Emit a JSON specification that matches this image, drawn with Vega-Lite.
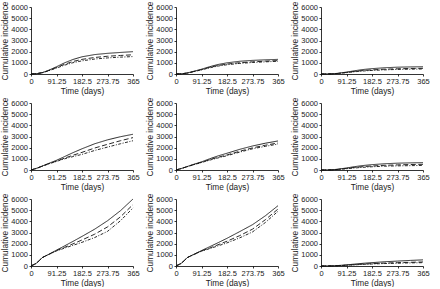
{
"$schema": "https://vega.github.io/schema/vega-lite/v6.json",
"padding": {"left": 0, "top": 1, "right": 2, "bottom": 0},
"background": "white",
"datasets": {
"curves": [
{"p":1,"s":"a","t":0,"v":0},{"p":1,"s":"a","t":20,"v":30},{"p":1,"s":"a","t":40,"v":120},{"p":1,"s":"a","t":60,"v":300},{"p":1,"s":"a","t":91.25,"v":650},{"p":1,"s":"a","t":120,"v":1000},{"p":1,"s":"a","t":150,"v":1300},{"p":1,"s":"a","t":182.5,"v":1540},{"p":1,"s":"a","t":228,"v":1740},{"p":1,"s":"a","t":273.75,"v":1850},{"p":1,"s":"a","t":320,"v":1930},{"p":1,"s":"a","t":365,"v":2000},
{"p":1,"s":"b","t":0,"v":0},{"p":1,"s":"b","t":20,"v":30},{"p":1,"s":"b","t":40,"v":115},{"p":1,"s":"b","t":60,"v":280},{"p":1,"s":"b","t":91.25,"v":580},{"p":1,"s":"b","t":120,"v":870},{"p":1,"s":"b","t":150,"v":1120},{"p":1,"s":"b","t":182.5,"v":1310},{"p":1,"s":"b","t":228,"v":1480},{"p":1,"s":"b","t":273.75,"v":1590},{"p":1,"s":"b","t":320,"v":1660},{"p":1,"s":"b","t":365,"v":1720},
{"p":1,"s":"c","t":0,"v":0},{"p":1,"s":"c","t":20,"v":30},{"p":1,"s":"c","t":40,"v":110},{"p":1,"s":"c","t":60,"v":260},{"p":1,"s":"c","t":91.25,"v":530},{"p":1,"s":"c","t":120,"v":790},{"p":1,"s":"c","t":150,"v":1010},{"p":1,"s":"c","t":182.5,"v":1180},{"p":1,"s":"c","t":228,"v":1340},{"p":1,"s":"c","t":273.75,"v":1440},{"p":1,"s":"c","t":320,"v":1510},{"p":1,"s":"c","t":365,"v":1560},
{"p":2,"s":"a","t":0,"v":0},{"p":2,"s":"a","t":20,"v":20},{"p":2,"s":"a","t":40,"v":90},{"p":2,"s":"a","t":60,"v":220},{"p":2,"s":"a","t":91.25,"v":430},{"p":2,"s":"a","t":120,"v":650},{"p":2,"s":"a","t":150,"v":850},{"p":2,"s":"a","t":182.5,"v":1000},{"p":2,"s":"a","t":228,"v":1140},{"p":2,"s":"a","t":273.75,"v":1220},{"p":2,"s":"a","t":320,"v":1270},{"p":2,"s":"a","t":365,"v":1310},
{"p":2,"s":"b","t":0,"v":0},{"p":2,"s":"b","t":20,"v":20},{"p":2,"s":"b","t":40,"v":85},{"p":2,"s":"b","t":60,"v":200},{"p":2,"s":"b","t":91.25,"v":390},{"p":2,"s":"b","t":120,"v":590},{"p":2,"s":"b","t":150,"v":760},{"p":2,"s":"b","t":182.5,"v":890},{"p":2,"s":"b","t":228,"v":1010},{"p":2,"s":"b","t":273.75,"v":1090},{"p":2,"s":"b","t":320,"v":1150},{"p":2,"s":"b","t":365,"v":1200},
{"p":2,"s":"c","t":0,"v":0},{"p":2,"s":"c","t":20,"v":20},{"p":2,"s":"c","t":40,"v":80},{"p":2,"s":"c","t":60,"v":190},{"p":2,"s":"c","t":91.25,"v":370},{"p":2,"s":"c","t":120,"v":550},{"p":2,"s":"c","t":150,"v":710},{"p":2,"s":"c","t":182.5,"v":830},{"p":2,"s":"c","t":228,"v":950},{"p":2,"s":"c","t":273.75,"v":1030},{"p":2,"s":"c","t":320,"v":1090},{"p":2,"s":"c","t":365,"v":1140},
{"p":3,"s":"a","t":0,"v":0},{"p":3,"s":"a","t":20,"v":5},{"p":3,"s":"a","t":40,"v":20},{"p":3,"s":"a","t":60,"v":60},{"p":3,"s":"a","t":91.25,"v":170},{"p":3,"s":"a","t":120,"v":290},{"p":3,"s":"a","t":150,"v":400},{"p":3,"s":"a","t":182.5,"v":480},{"p":3,"s":"a","t":228,"v":560},{"p":3,"s":"a","t":273.75,"v":610},{"p":3,"s":"a","t":320,"v":635},{"p":3,"s":"a","t":365,"v":650},
{"p":3,"s":"b","t":0,"v":0},{"p":3,"s":"b","t":20,"v":5},{"p":3,"s":"b","t":40,"v":18},{"p":3,"s":"b","t":60,"v":50},{"p":3,"s":"b","t":91.25,"v":140},{"p":3,"s":"b","t":120,"v":230},{"p":3,"s":"b","t":150,"v":310},{"p":3,"s":"b","t":182.5,"v":370},{"p":3,"s":"b","t":228,"v":430},{"p":3,"s":"b","t":273.75,"v":470},{"p":3,"s":"b","t":320,"v":495},{"p":3,"s":"b","t":365,"v":510},
{"p":3,"s":"c","t":0,"v":0},{"p":3,"s":"c","t":20,"v":5},{"p":3,"s":"c","t":40,"v":16},{"p":3,"s":"c","t":60,"v":45},{"p":3,"s":"c","t":91.25,"v":120},{"p":3,"s":"c","t":120,"v":200},{"p":3,"s":"c","t":150,"v":270},{"p":3,"s":"c","t":182.5,"v":320},{"p":3,"s":"c","t":228,"v":370},{"p":3,"s":"c","t":273.75,"v":410},{"p":3,"s":"c","t":320,"v":430},{"p":3,"s":"c","t":365,"v":450},
{"p":4,"s":"a","t":0,"v":0},{"p":4,"s":"a","t":20,"v":150},{"p":4,"s":"a","t":40,"v":350},{"p":4,"s":"a","t":60,"v":560},{"p":4,"s":"a","t":91.25,"v":870},{"p":4,"s":"a","t":120,"v":1200},{"p":4,"s":"a","t":150,"v":1550},{"p":4,"s":"a","t":182.5,"v":1900},{"p":4,"s":"a","t":228,"v":2350},{"p":4,"s":"a","t":273.75,"v":2700},{"p":4,"s":"a","t":320,"v":2980},{"p":4,"s":"a","t":365,"v":3200},
{"p":4,"s":"b","t":0,"v":0},{"p":4,"s":"b","t":20,"v":150},{"p":4,"s":"b","t":40,"v":340},{"p":4,"s":"b","t":60,"v":530},{"p":4,"s":"b","t":91.25,"v":800},{"p":4,"s":"b","t":120,"v":1060},{"p":4,"s":"b","t":150,"v":1320},{"p":4,"s":"b","t":182.5,"v":1580},{"p":4,"s":"b","t":228,"v":1970},{"p":4,"s":"b","t":273.75,"v":2300},{"p":4,"s":"b","t":320,"v":2620},{"p":4,"s":"b","t":365,"v":2900},
{"p":4,"s":"c","t":0,"v":0},{"p":4,"s":"c","t":20,"v":150},{"p":4,"s":"c","t":40,"v":340},{"p":4,"s":"c","t":60,"v":520},{"p":4,"s":"c","t":91.25,"v":770},{"p":4,"s":"c","t":120,"v":1000},{"p":4,"s":"c","t":150,"v":1200},{"p":4,"s":"c","t":182.5,"v":1400},{"p":4,"s":"c","t":228,"v":1750},{"p":4,"s":"c","t":273.75,"v":2050},{"p":4,"s":"c","t":320,"v":2350},{"p":4,"s":"c","t":365,"v":2620},
{"p":5,"s":"a","t":0,"v":0},{"p":5,"s":"a","t":20,"v":140},{"p":5,"s":"a","t":40,"v":310},{"p":5,"s":"a","t":60,"v":480},{"p":5,"s":"a","t":91.25,"v":730},{"p":5,"s":"a","t":120,"v":1000},{"p":5,"s":"a","t":150,"v":1260},{"p":5,"s":"a","t":182.5,"v":1500},{"p":5,"s":"a","t":228,"v":1850},{"p":5,"s":"a","t":273.75,"v":2150},{"p":5,"s":"a","t":320,"v":2400},{"p":5,"s":"a","t":365,"v":2600},
{"p":5,"s":"b","t":0,"v":0},{"p":5,"s":"b","t":20,"v":140},{"p":5,"s":"b","t":40,"v":300},{"p":5,"s":"b","t":60,"v":460},{"p":5,"s":"b","t":91.25,"v":690},{"p":5,"s":"b","t":120,"v":920},{"p":5,"s":"b","t":150,"v":1140},{"p":5,"s":"b","t":182.5,"v":1350},{"p":5,"s":"b","t":228,"v":1680},{"p":5,"s":"b","t":273.75,"v":1980},{"p":5,"s":"b","t":320,"v":2220},{"p":5,"s":"b","t":365,"v":2420},
{"p":5,"s":"c","t":0,"v":0},{"p":5,"s":"c","t":20,"v":140},{"p":5,"s":"c","t":40,"v":300},{"p":5,"s":"c","t":60,"v":450},{"p":5,"s":"c","t":91.25,"v":670},{"p":5,"s":"c","t":120,"v":880},{"p":5,"s":"c","t":150,"v":1080},{"p":5,"s":"c","t":182.5,"v":1280},{"p":5,"s":"c","t":228,"v":1600},{"p":5,"s":"c","t":273.75,"v":1900},{"p":5,"s":"c","t":320,"v":2120},{"p":5,"s":"c","t":365,"v":2320},
{"p":6,"s":"a","t":0,"v":0},{"p":6,"s":"a","t":20,"v":5},{"p":6,"s":"a","t":40,"v":20},{"p":6,"s":"a","t":60,"v":70},{"p":6,"s":"a","t":91.25,"v":180},{"p":6,"s":"a","t":120,"v":300},{"p":6,"s":"a","t":150,"v":400},{"p":6,"s":"a","t":182.5,"v":480},{"p":6,"s":"a","t":228,"v":560},{"p":6,"s":"a","t":273.75,"v":610},{"p":6,"s":"a","t":320,"v":640},{"p":6,"s":"a","t":365,"v":660},
{"p":6,"s":"b","t":0,"v":0},{"p":6,"s":"b","t":20,"v":5},{"p":6,"s":"b","t":40,"v":18},{"p":6,"s":"b","t":60,"v":55},{"p":6,"s":"b","t":91.25,"v":140},{"p":6,"s":"b","t":120,"v":230},{"p":6,"s":"b","t":150,"v":300},{"p":6,"s":"b","t":182.5,"v":360},{"p":6,"s":"b","t":228,"v":420},{"p":6,"s":"b","t":273.75,"v":460},{"p":6,"s":"b","t":320,"v":490},{"p":6,"s":"b","t":365,"v":510},
{"p":6,"s":"c","t":0,"v":0},{"p":6,"s":"c","t":20,"v":5},{"p":6,"s":"c","t":40,"v":15},{"p":6,"s":"c","t":60,"v":45},{"p":6,"s":"c","t":91.25,"v":110},{"p":6,"s":"c","t":120,"v":180},{"p":6,"s":"c","t":150,"v":240},{"p":6,"s":"c","t":182.5,"v":290},{"p":6,"s":"c","t":228,"v":340},{"p":6,"s":"c","t":273.75,"v":370},{"p":6,"s":"c","t":320,"v":390},{"p":6,"s":"c","t":365,"v":410},
{"p":7,"s":"a","t":0,"v":0},{"p":7,"s":"a","t":20,"v":250},{"p":7,"s":"a","t":40,"v":750},{"p":7,"s":"a","t":60,"v":1000},{"p":7,"s":"a","t":91.25,"v":1420},{"p":7,"s":"a","t":120,"v":1800},{"p":7,"s":"a","t":150,"v":2200},{"p":7,"s":"a","t":182.5,"v":2650},{"p":7,"s":"a","t":228,"v":3300},{"p":7,"s":"a","t":273.75,"v":4050},{"p":7,"s":"a","t":320,"v":4950},{"p":7,"s":"a","t":365,"v":6000},
{"p":7,"s":"b","t":0,"v":0},{"p":7,"s":"b","t":20,"v":250},{"p":7,"s":"b","t":40,"v":750},{"p":7,"s":"b","t":60,"v":1000},{"p":7,"s":"b","t":91.25,"v":1380},{"p":7,"s":"b","t":120,"v":1670},{"p":7,"s":"b","t":150,"v":1980},{"p":7,"s":"b","t":182.5,"v":2330},{"p":7,"s":"b","t":228,"v":2850},{"p":7,"s":"b","t":273.75,"v":3500},{"p":7,"s":"b","t":320,"v":4400},{"p":7,"s":"b","t":365,"v":5500},
{"p":7,"s":"c","t":0,"v":0},{"p":7,"s":"c","t":20,"v":250},{"p":7,"s":"c","t":40,"v":750},{"p":7,"s":"c","t":60,"v":990},{"p":7,"s":"c","t":91.25,"v":1350},{"p":7,"s":"c","t":120,"v":1600},{"p":7,"s":"c","t":150,"v":1850},{"p":7,"s":"c","t":182.5,"v":2120},{"p":7,"s":"c","t":228,"v":2550},{"p":7,"s":"c","t":273.75,"v":3100},{"p":7,"s":"c","t":320,"v":4050},{"p":7,"s":"c","t":365,"v":5200},
{"p":8,"s":"a","t":0,"v":0},{"p":8,"s":"a","t":20,"v":250},{"p":8,"s":"a","t":40,"v":750},{"p":8,"s":"a","t":60,"v":1000},{"p":8,"s":"a","t":91.25,"v":1380},{"p":8,"s":"a","t":120,"v":1720},{"p":8,"s":"a","t":150,"v":2080},{"p":8,"s":"a","t":182.5,"v":2480},{"p":8,"s":"a","t":228,"v":3080},{"p":8,"s":"a","t":273.75,"v":3700},{"p":8,"s":"a","t":320,"v":4500},{"p":8,"s":"a","t":365,"v":5400},
{"p":8,"s":"b","t":0,"v":0},{"p":8,"s":"b","t":20,"v":250},{"p":8,"s":"b","t":40,"v":750},{"p":8,"s":"b","t":60,"v":990},{"p":8,"s":"b","t":91.25,"v":1350},{"p":8,"s":"b","t":120,"v":1600},{"p":8,"s":"b","t":150,"v":1900},{"p":8,"s":"b","t":182.5,"v":2220},{"p":8,"s":"b","t":228,"v":2720},{"p":8,"s":"b","t":273.75,"v":3300},{"p":8,"s":"b","t":320,"v":4150},{"p":8,"s":"b","t":365,"v":5100},
{"p":8,"s":"c","t":0,"v":0},{"p":8,"s":"c","t":20,"v":250},{"p":8,"s":"c","t":40,"v":750},{"p":8,"s":"c","t":60,"v":980},{"p":8,"s":"c","t":91.25,"v":1330},{"p":8,"s":"c","t":120,"v":1550},{"p":8,"s":"c","t":150,"v":1800},{"p":8,"s":"c","t":182.5,"v":2070},{"p":8,"s":"c","t":228,"v":2520},{"p":8,"s":"c","t":273.75,"v":3050},{"p":8,"s":"c","t":320,"v":3900},{"p":8,"s":"c","t":365,"v":4900},
{"p":9,"s":"a","t":0,"v":0},{"p":9,"s":"a","t":20,"v":5},{"p":9,"s":"a","t":40,"v":15},{"p":9,"s":"a","t":60,"v":40},{"p":9,"s":"a","t":91.25,"v":100},{"p":9,"s":"a","t":120,"v":170},{"p":9,"s":"a","t":150,"v":240},{"p":9,"s":"a","t":182.5,"v":300},{"p":9,"s":"a","t":228,"v":380},{"p":9,"s":"a","t":273.75,"v":440},{"p":9,"s":"a","t":320,"v":500},{"p":9,"s":"a","t":365,"v":550},
{"p":9,"s":"b","t":0,"v":0},{"p":9,"s":"b","t":20,"v":5},{"p":9,"s":"b","t":40,"v":12},{"p":9,"s":"b","t":60,"v":30},{"p":9,"s":"b","t":91.25,"v":75},{"p":9,"s":"b","t":120,"v":120},{"p":9,"s":"b","t":150,"v":170},{"p":9,"s":"b","t":182.5,"v":210},{"p":9,"s":"b","t":228,"v":260},{"p":9,"s":"b","t":273.75,"v":300},{"p":9,"s":"b","t":320,"v":330},{"p":9,"s":"b","t":365,"v":360},
{"p":9,"s":"c","t":0,"v":0},{"p":9,"s":"c","t":20,"v":5},{"p":9,"s":"c","t":40,"v":10},{"p":9,"s":"c","t":60,"v":25},{"p":9,"s":"c","t":91.25,"v":65},{"p":9,"s":"c","t":120,"v":105},{"p":9,"s":"c","t":150,"v":145},{"p":9,"s":"c","t":182.5,"v":180},{"p":9,"s":"c","t":228,"v":220},{"p":9,"s":"c","t":273.75,"v":250},{"p":9,"s":"c","t":320,"v":280},{"p":9,"s":"c","t":365,"v":300}
]
},
"data": {"name": "curves"},
"facet": {"field": "p", "type": "ordinal", "title": null, "header": {"labelExpr": "''", "labelFontSize": 0, "labelPadding": 0, "labels": false, "title": null}},
"columns": 3,
"spacing": {"column": 5, "row": 2},
"resolve": {"axis": {"x": "independent", "y": "independent"}},
"spec": {
  "width": 102,
  "height": 67,
  "mark": {"type": "line", "strokeWidth": 0.9, "color": "#111"},
  "encoding": {
    "x": {"field": "t", "type": "quantitative", "scale": {"domain": [0, 365], "nice": false},
          "axis": {"title": "Time (days)", "values": [0, 91.25, 182.5, 273.75, 365], "labelExpr": "'' + datum.value", "labelFlush": false, "tickSize": 2}},
    "y": {"field": "v", "type": "quantitative", "scale": {"domain": [0, 6000], "nice": false},
          "axis": {"title": "Cumulative incidence", "values": [0, 1000, 2000, 3000, 4000, 5000, 6000], "format": "d", "tickSize": 2}},
    "strokeDash": {"field": "s", "type": "nominal", "legend": null,
          "scale": {"domain": ["a", "b", "c"], "range": [[1, 0], [5, 2.5], [3, 1.5, 1, 1.5]]}},
    "detail": {"field": "s"}
  }
},
"config": {
  "font": "Liberation Sans",
  "view": {"stroke": null},
  "header": {"labelExpr": "''", "labelFontSize": 0, "labelPadding": 0, "labels": false, "title": null},
  "headerFacet": {"labelExpr": "''", "labelFontSize": 0, "labelPadding": 0, "labels": false, "title": null},
  "axis": {"grid": false, "domainColor": "#000", "tickColor": "#000", "labelColor": "#222", "titleColor": "#222",
           "labelFontSize": 7.5, "titleFontSize": 8.3, "titleFontWeight": "normal", "labelPadding": 1.5, "titlePadding": 1.5, "domainWidth": 0.8, "tickWidth": 0.8}
}
}
